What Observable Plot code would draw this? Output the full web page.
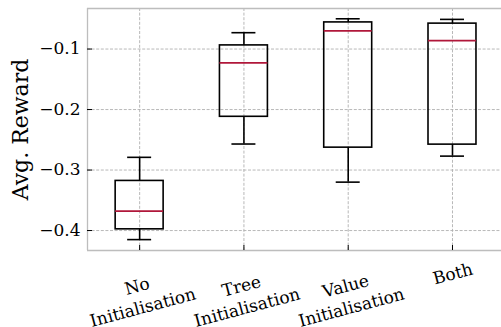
<!DOCTYPE html>
<html><head><meta charset="utf-8">
<script src="https://cdn.jsdelivr.net/npm/d3@7"></script>
<script src="https://cdn.jsdelivr.net/npm/@observablehq/plot@0.6"></script>
<style>body{margin:0;background:#fff}</style>
</head><body><div id="chart"></div>
<script>
const categories = ["No\nInitialisation", "Tree\nInitialisation", "Value\nInitialisation", "Both"];
const whiskerLow  = [-0.415, -0.257, -0.320, -0.277];
const q1          = [-0.398, -0.212, -0.263, -0.258];
const median      = [-0.368, -0.123, -0.070, -0.086];
const q3          = [-0.318, -0.094, -0.056, -0.058];
const whiskerHigh = [-0.279, -0.073, -0.050, -0.051];
const yTicks = [-0.4, -0.3, -0.2, -0.1];
const yLabel = "Avg. Reward";

const positions = categories.map((d, i) => i + 1);
const rows = categories.map((c, i) => ({
  pos: i + 1, label: c, lo: whiskerLow[i], q1: q1[i], med: median[i], q3: q3[i], hi: whiskerHigh[i],
  lines: c.split("\n").length
}));
const boxHalf = 0.23, capHalf = 0.115;
const yDomain = [-0.433, -0.033];
const gridStyle = {stroke: "#b0b0b0", strokeOpacity: 1, strokeDasharray: "3,1.6", strokeWidth: 0.9};
const frameStyle = {stroke: "#bdbdbd", strokeWidth: 1.3};
const lineStyle = {stroke: "#000", strokeWidth: 1.6};
const tickFont = 17;

const chart = Plot.plot({
  width: 501, height: 327,
  marginLeft: 87, marginRight: 0, marginTop: 8, marginBottom: 77,
  style: {fontFamily: "DejaVu Serif", fontSize: tickFont + "px", background: "#fff", color: "#000"},
  x: {type: "linear", domain: [0.5, 4.47]},
  y: {domain: yDomain},
  marks: [
    Plot.gridY(yTicks, gridStyle),
    Plot.gridX(positions, gridStyle),
    Plot.ruleY(yDomain, frameStyle),
    Plot.ruleX([0.5], frameStyle),
    Plot.axisY(yTicks, {tickSize: 0, tickPadding: 7, label: null, fontSize: tickFont, tickFormat: d3.format(".1f")}),
    Plot.axisY(yTicks, {tickSize: -5, tickFormat: () => "", label: null, stroke: "#000"}),
    Plot.axisX(positions, {tickSize: -5, tickFormat: () => "", label: null, stroke: "#000"}),
    Plot.ruleX(rows, {x: "pos", y1: "q3", y2: "hi", ...lineStyle}),
    Plot.ruleX(rows, {x: "pos", y1: "lo", y2: "q1", ...lineStyle}),
    Plot.ruleY(rows, {y: "hi", x1: d => d.pos - capHalf, x2: d => d.pos + capHalf, ...lineStyle}),
    Plot.ruleY(rows, {y: "lo", x1: d => d.pos - capHalf, x2: d => d.pos + capHalf, ...lineStyle}),
    Plot.rect(rows, {x1: d => d.pos - boxHalf, x2: d => d.pos + boxHalf, y1: "q1", y2: "q3", fill: "none", ...lineStyle}),
    Plot.ruleY(rows, {y: "med", x1: d => d.pos - boxHalf, x2: d => d.pos + boxHalf, stroke: "#b0173a", strokeWidth: 1.8}),
    Plot.text(rows.filter(d => d.lines > 1), {x: "pos", text: "label", frameAnchor: "bottom", dy: 45, rotate: -15, textAnchor: "middle", lineAnchor: "middle", lineHeight: 1.3, fontSize: tickFont}),
    Plot.text(rows.filter(d => d.lines === 1), {x: "pos", text: "label", frameAnchor: "bottom", dy: 22, rotate: -15, textAnchor: "middle", lineAnchor: "middle", lineHeight: 1.3, fontSize: tickFont}),
    Plot.text([yLabel], {frameAnchor: "left", dx: -67, rotate: -90, textAnchor: "middle", lineAnchor: "middle", fontSize: 22})
  ]
});
document.getElementById("chart").appendChild(chart);
</script>
</body></html>
